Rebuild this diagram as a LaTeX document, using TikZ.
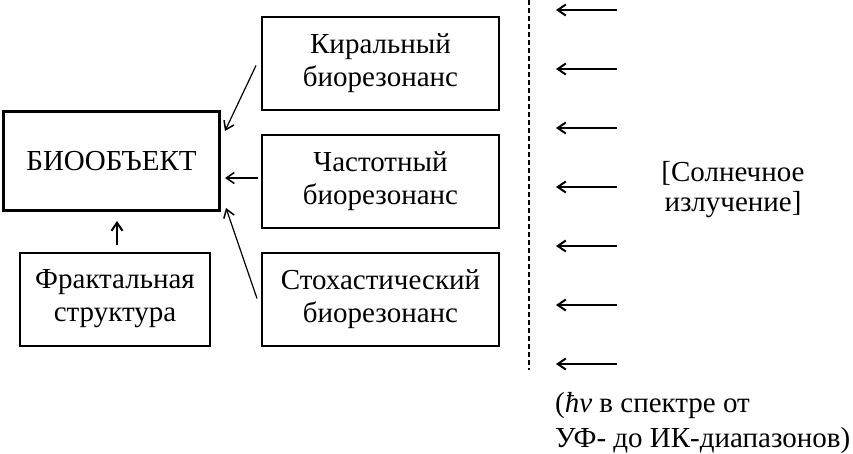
\documentclass[tikz,border=0pt]{standalone}
\usepackage{fontspec}
\setmainfont{Liberation Serif}
\usetikzlibrary{calc,arrows.meta}

\begin{document}
\begin{tikzpicture}[x=1pt, y=-1pt]

\pgfmathsetlengthmacro{\boxWidth}{237pt}
\pgfmathsetlengthmacro{\boxHeight}{93pt}
\pgfmathsetlengthmacro{\objWidth}{216pt}
\pgfmathsetlengthmacro{\objHeight}{99pt}
\tikzset{
  res/.style={draw, line width=2pt, minimum width=\boxWidth, minimum height=\boxHeight, inner sep=0pt, align=center, font=\fontsize{29}{33}\selectfont},
  obj/.style={draw, line width=3pt, minimum width=\objWidth, minimum height=\objHeight, inner sep=0pt, font=\fontsize{29}{33}\selectfont},
  link/.style={-{Straight Barb[length=8pt,width=11pt,line width=1.5pt]}, line width=1.2pt},
  ray/.style={-{Straight Barb[length=8pt,width=11pt,line width=2pt]}, line width=2pt},
  label/.style={inner sep=0pt, font=\fontsize{29}{30}\selectfont},
}

\useasboundingbox (0,0) rectangle (853,453);

\node[obj,name=bio] at (111.5,161) {БИООБЪЕКТ};
  % resonances
  \node[res, name=chiral] at (380.5,63.5) {Киральный\\биорезонанс};
  \node[res, name=freq] at (380.5,181.5) {Частотный\\биорезонанс};
  \node[res, name=stoch] at (380.5,299.5) {Стохастический\\биорезонанс};
  % structure
  \node[res, minimum width=190pt, name=fractal] at (115,299) {Фрактальная\\структура};

\draw[link] ($(chiral.west)+(-5,2)$) -- ($(bio.north east)+(4,21)$);
\draw[link] ($(freq.west)+(-3,-3.5)$) -- ($(bio.east)+(4,17)$);
\draw[link] ($(stoch.west)+(-4,-1)$) -- ($(bio.south east)+(5,-4)$);
\draw[ray] ($(fractal.north)+(2,-7)$) -- ($(bio.south)+(5.5,9)$);

\draw[line width=1.5pt, dash pattern=on 5pt off 3pt] (529,0) -- (529,370);

\coordinate (src1) at (617,10);
\coordinate (src2) at (617,69);
\coordinate (src3) at (617,128);
\coordinate (src4) at (617,187);
\coordinate (src5) at (617,246);
\coordinate (src6) at (617,305);
\coordinate (src7) at (617,364);
\draw[ray] (src1) -- ++(-61,0);
\draw[ray] (src2) -- ++(-61,0);
\draw[ray] (src3) -- ++(-61,0);
\draw[ray] (src4) -- ++(-61,0);
\draw[ray] (src5) -- ++(-61,0);
\draw[ray] (src6) -- ++(-61,0);
\draw[ray] (src7) -- ++(-61,0);

\node[label, align=center, name=sun] at (733,190) {[Солнечное\\излучение]};
\node[label, align=left, anchor=north west, font=\fontsize{29}{35}\selectfont, name=spectrum] at (555,392) {({\itshape ħν} в спектре от\\УФ- до ИК-диапазонов)};

\end{tikzpicture}
\end{document}
